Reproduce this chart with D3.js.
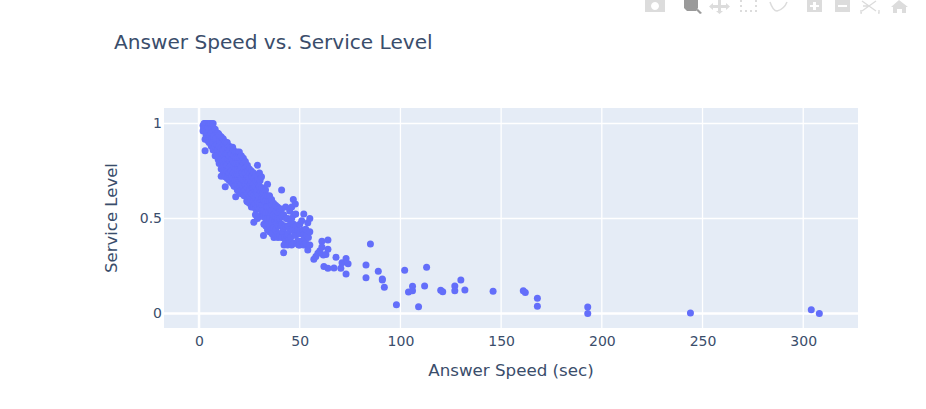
<!DOCTYPE html>
<html><head><meta charset="utf-8">
<script src="https://cdn.jsdelivr.net/npm/d3@7/dist/d3.min.js"></script>
<style>html,body{margin:0;padding:0;background:#fff;overflow:hidden}svg{display:block}text{font-family:"DejaVu Sans",Verdana,sans-serif;fill:#3a4d6b}</style>
</head><body><div id="chart"></div>
<script>
const chartTitle = "Answer Speed vs. Service Level";
const xTitle = "Answer Speed (sec)";
const yTitle = "Service Level";
const xTicks = [0, 50, 100, 150, 200, 250, 300];
const yTicks = [0, 0.5, 1];
const answerSpeed = [
2,2.2,2.5,2,3,3.3,3,3.5,3,3,4,4.4,4,4,4.3,5,5.2,5,5.5,5,5,6,6.2,6,6.4,6,6.1,7,7,7.3,7,7.5,7,
8,8,8.3,8,8.5,8,9,9.6,9,9.3,9,9.5,10,10.2,10,10.5,10,10,11,11.3,11,11.5,11,11,11,
12,12.4,12,12.5,12,12.2,12,13,13,13.4,13,13.5,13,13,13,14,14.3,14,14.5,14,14,14.2,14,
15,15.3,15,15.5,15,15,15.2,15,16,16.7,16,16.4,16,16,16.2,16,17,17.3,17,17.5,17,17,17,17.4,
18,18.3,18,18.5,18,18,18,18.2,19,19.3,19,19.5,19,19,19.2,19,20,20.3,20,20.5,20,20,20.2,20,
21,21.3,21,21.5,21,21,21.2,21,22,22,22.5,22,22.3,22,22,22.4,23,23.3,23,23.5,23,23,23.2,23.7,
24,24.3,24,24.5,24,24,24.2,24,25,25.3,25,25.5,25,25,25.2,25,26,26.3,26,26.5,26,26,26.2,26,
27,27.3,27,27.5,27,27,27,27.2,28,28.3,28,28.5,28,28,28.2,28,29,29,29.5,29,29.3,29,29.2,29,
30,30.3,30,30.5,30,30,30.2,30,31,31,31.5,31,31.3,31,32,32.4,32,32.5,32,32,32.2,32,
33,33.3,33,33.5,33,33,33.2,34,34,34.3,34,34.5,34,34.2,34,35,35.3,35,35.5,35,35.2,35,
36,36.3,36,36.5,36,36,36.2,37,37.3,37,37.7,37,37.2,38,38.3,38,38.5,38,38.2,39,39.3,39,39.5,39,39.2,
40,40.3,40,40.5,40,40.2,41,41,41.3,41,41.5,41,42,42,42.2,42.5,42,43,43.3,43,43.5,43,44,44.3,44,44.5,44,
45,45.3,45,45.5,45,46,46.8,46,46.3,46,47,47.8,47,47.5,47,48,48.3,48,48.5,49,49,49.5,50,50,50.3,50,
51,51.5,51,52,52,52,52.5,53,53,53.5,54,54.3,54,55,55,55,57,58,59,60,61,61,61.7,62,63,64,64,64,67,68,70.4,71,73,73,74,
82.9,82.9,85.1,89,91,91,92,98,102.1,104,106,106,109,112,113,120,121,127,127,130,132,146,161,162,168,168,193,193,244,304,308
];
const serviceLevel = [
.99,.97,1,.96,1,.98,.96,.94,.917,.857,1,.98,.95,.92,.91,1,.99,.97,.94,.91,.9,1,.97,.95,.92,.89,.88,1,.96,.93,.9,.87,.86,
.97,.94,.92,.88,.85,.83,.95,.948,.89,.86,.83,.81,.94,.91,.88,.85,.82,.79,.93,.9,.87,.84,.81,.76,.723,
.92,.89,.86,.83,.8,.78,.75,.904,.87,.84,.81,.78,.75,.72,.667,.9,.87,.84,.81,.78,.75,.72,.71,
.88,.86,.83,.8,.77,.74,.71,.7,.875,.875,.84,.81,.78,.75,.72,.69,.86,.83,.8,.77,.74,.71,.68,.67,
.85,.82,.79,.76,.73,.7,.67,.615,.85,.82,.79,.76,.73,.7,.67,.65,.85,.82,.79,.76,.73,.7,.67,.64,
.83,.8,.77,.74,.71,.68,.65,.63,.817,.79,.76,.73,.7,.67,.64,.62,.8,.77,.74,.71,.68,.65,.62,.592,
.78,.75,.72,.69,.66,.63,.6,.588,.76,.74,.71,.68,.65,.62,.59,.58,.75,.72,.69,.66,.63,.6,.57,.56,
.74,.71,.68,.65,.62,.59,.56,.48,.73,.7,.67,.64,.61,.58,.55,.52,.78,.71,.68,.65,.62,.59,.56,.5,
.74,.7,.67,.64,.61,.58,.55,.51,.72,.66,.63,.6,.57,.54,.66,.63,.6,.57,.54,.51,.47,.41,
.65,.62,.59,.56,.53,.5,.46,.68,.62,.59,.56,.53,.5,.47,.44,.62,.59,.56,.53,.5,.46,.43,
.6,.57,.54,.51,.48,.44,.42,.58,.55,.52,.49,.45,.4,.57,.54,.51,.48,.44,.41,.56,.53,.5,.46,.42,.4,
.55,.54,.5,.46,.42,.41,.65,.55,.51,.47,.43,.4,.52,.45,.36,.4,.32,.56,.5,.46,.41,.38,.5,.46,.42,.38,.36,
.54,.49,.44,.4,.37,.56,.6,.5,.44,.36,.52,.576,.47,.42,.37,.524,.46,.41,.37,.44,.38,.36,.47,.42,.38,.36,
.488,.44,.38,.524,.413,.36,.4,.443,.37,.41,.478,.4,.334,.5,.43,.36,.285,.3,.317,.33,.38,.35,.308,.248,.31,.387,.338,.238,.24,.296,.238,.267,.29,.208,.262,
.255,.188,.366,.222,.182,.176,.138,.046,.227,.113,.143,.12,.036,.145,.243,.122,.115,.145,.12,.176,.124,.117,.12,.11,.08,.038,.034,0,.003,.02,0
];

const W = 926, H = 409;
const plot = {l:164, r:858, t:108, b:328};
const x = d3.scaleLinear().domain([-17.4, 327.2]).range([plot.l, plot.r]);
const y = d3.scaleLinear().domain([-0.0763, 1.0816]).range([plot.b, plot.t]);

const svg = d3.select("#chart").append("svg").attr("width", W).attr("height", H);
svg.append("rect").attr("x", plot.l).attr("y", plot.t).attr("width", plot.r-plot.l).attr("height", plot.b-plot.t).attr("fill", "#e5ecf6");

const grid = svg.append("g").attr("stroke", "#fff");
grid.selectAll("line.v").data(xTicks).join("line").attr("class","v")
  .attr("x1", d=>x(d)).attr("x2", d=>x(d)).attr("y1", plot.t).attr("y2", plot.b)
  .attr("stroke-width", d=>d===0?2.5:1.3);
grid.selectAll("line.h").data(yTicks).join("line").attr("class","h")
  .attr("x1", plot.l).attr("x2", plot.r).attr("y1", d=>y(d)).attr("y2", d=>y(d))
  .attr("stroke-width", d=>d===0?2.5:1.3);

const xAxis = svg.append("g").attr("transform", `translate(0,${plot.b})`)
  .call(d3.axisBottom(x).tickValues(xTicks).tickSize(0).tickPadding(8).tickFormat(d3.format("d")));
const yAxis = svg.append("g").attr("transform", `translate(${plot.l},0)`)
  .call(d3.axisLeft(y).tickValues(yTicks).tickSize(0).tickPadding(2).tickFormat(d=>String(d)));
[xAxis,yAxis].forEach(a=>{a.select(".domain").remove();a.selectAll("text").style("font-size","14px");a.attr("font-family",null).attr("font-size",null);});

svg.append("g").selectAll("circle").data(answerSpeed.map((d,i)=>[d,serviceLevel[i]])).join("circle")
  .attr("cx", d=>x(d[0])).attr("cy", d=>y(d[1])).attr("r", 3.5).attr("fill", "#636efa");

svg.append("text").attr("x",114).attr("y",49).style("font-size","20.1px").text(chartTitle);
svg.append("text").attr("x",511).attr("y",376).attr("text-anchor","middle").style("font-size","16.7px").text(xTitle);
svg.append("text").attr("transform","translate(117,218) rotate(-90)").attr("text-anchor","middle").style("font-size","16.5px").text(yTitle);

// modebar (decorative, cropped at the window top)
const mb = svg.append("g").attr("fill","#dcdcdc");
mb.append("path").attr("d","M645 0h20v12h-20z M655 2a4 4 0 1 0 .01 0z").attr("fill-rule","evenodd");
mb.append("path").attr("d","M684 0h14v8l-2 3h-9l-3-3z M698 9l4 4-2 1-4-4z").attr("fill","#9a9a9a");
mb.append("path").attr("d","M718 0h3v5h5v-2l4 3.5-4 3.5v-2h-5v3h2l-3.500 3-3.500-3h2v-3h-5v2l-4-3.500 4-3.500v2h5z");
mb.append("path").attr("d","M740 0h2v2h-2z M740 5h2v2h-2z M740 10h2v2h-2z M745 10h2v2h-2z M750 10h2v2h-2z M755 10h2v2h-2z M755 5h2v2h-2z M755 0h2v2h-2z");
mb.append("path").attr("d","M770 2c2 6 5 9 7 9c4-1 8-4 10-9").attr("fill","none").attr("stroke","#dcdcdc").attr("stroke-width",1.5);
mb.append("path").attr("d","M807 0h15v12h-15z M813 2v3h-3v2h3v3h3v-3h3v-2h-3v-3z").attr("fill-rule","evenodd");
mb.append("path").attr("d","M835 0h15v12h-15z M838 5v2h9v-2z").attr("fill-rule","evenodd");
mb.append("path").attr("d","M863 6l5 0 M862 1l14 10 M876 1l-14 10 M862 13h-1v-3 M878 13h1v-3").attr("fill","none").attr("stroke","#dcdcdc").attr("stroke-width",1.4);
mb.append("path").attr("d","M899 0l9 7h-2v6h-4v-4h-5v4h-4v-6h-2z");
</script></body></html>
